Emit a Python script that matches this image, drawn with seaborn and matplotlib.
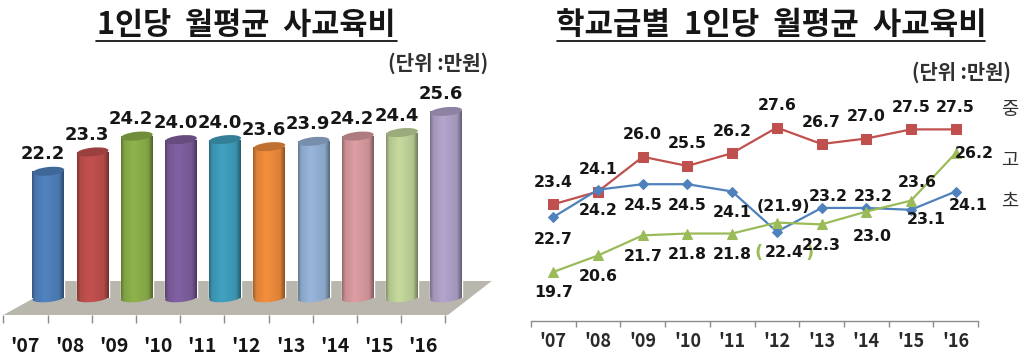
"""
private education cost charts: bars on the left, lines by school level on the right
"""
import numpy as np
import pandas as pd
import matplotlib.pyplot as plt
import seaborn as sns
from matplotlib.colors import to_rgb
from matplotlib.lines import Line2D
from matplotlib.patches import Ellipse, Polygon
from matplotlib.transforms import IdentityTransform

W, H = 1024, 358

# --- data ---
years = ["'07", "'08", "'09", "'10", "'11", "'12", "'13", "'14", "'15", "'16"]
total = [22.2, 23.3, 24.2, 24.0, 24.0, 23.6, 23.9, 24.2, 24.4, 25.6]
middle = [23.4, 24.1, 26.0, 25.5, 26.2, 27.6, 26.7, 27.0, 27.5, 27.5]
elementary = [22.7, 24.2, 24.5, 24.5, 24.1, 21.9, 23.2, 23.2, 23.1, 24.1]
high = [19.7, 20.6, 21.7, 21.8, 21.8, 22.4, 22.3, 23.0, 23.6, 26.2]

bar_colors = ["#4f81bd", "#c0504d", "#8cb04a", "#7f5f9f", "#3f9fbd", "#f08c3c",
              "#95b3d7", "#da9ba0", "#c3d69b", "#b0a2c9"]

left_title = "1인당  월평균  사교육비"
right_title = "학교급별  1인당  월평균  사교육비"
unit_left = "(단위 :만원)"
unit_right = "(단위 :만원)"

# label offsets in pixels from the marker
middle_off = [(0, 22)] * 10
elementary_off = [(0, -22), (0, -21), (0, -21), (0, -21), (0, -21),
                  (7, 25), (7, 11), (7, 11), (15, -10), (13, -14)]
high_off = [(0, -21), (0, -21), (0, -21), (0, -21), (0, -21),
            (7, -30), (0, -21), (6, -25), (6, 18), (19, 0)]

INK = "#161616"
DATA_FONT = {"family": "DejaVu Sans", "weight": "bold", "color": INK}


def axes_at(fig, x0, x1, y_top, y_bottom):
    # axes placed by pixel box, y counted from the top of the image
    ax = fig.add_axes([x0 / W, 1 - y_bottom / H, (x1 - x0) / W, (y_bottom - y_top) / H])
    ax.patch.set_alpha(0)
    return ax


def px(x, y):
    return (x, H - y)


def shaded(ax, color, x0, x1, y0, y1, clip, zorder, free=False):
    # left to right shading of a cylinder side
    rgb = np.array(to_rgb(color))
    t = np.linspace(0, 1, 64)
    light = np.interp(t, [0, 0.1, 0.4, 0.85, 1], [0.68, 0.92, 1.02, 0.92, 0.58])
    row = np.clip(rgb[None, :] * light[:, None], 0, 1)
    im = ax.imshow(row[None, :, :], extent=(x0, x1, y0, y1), aspect="auto",
                   zorder=zorder, interpolation="bilinear")
    im.set_clip_path(clip)
    if free:
        # the base curve hangs below the axes box
        im.set_clip_box(ax.figure.bbox)
    return im


def draw_bars(fig):
    # front plane carries the floor edge and the tick labels
    front = axes_at(fig, 3.3, 445.3, 200, 315)
    front.set_xlim(-0.5, 9.5)
    front.set_ylim(0, 1)
    front.set_xticks(range(10), years)
    front.set_xticks(np.arange(-0.5, 10), minor=True)
    front.set_yticks([])
    front.tick_params(axis="x", which="major", length=0, pad=16, labelsize=14,
                      labelcolor=INK)
    front.tick_params(axis="x", which="minor", length=5.8, width=1, color="#8c8c8c",
                      bottom=True)
    for label in front.get_xticklabels():
        label.set_fontweight("bold")
    sns.despine(ax=front, left=True, bottom=True)

    floor = Polygon([px(3.3, 315), px(448, 315), px(491.7, 281), px(65, 281)],
                    closed=True, transform=IdentityTransform(), facecolor="#b9b6ae",
                    edgecolor="none", clip_on=False)
    front.add_patch(floor)

    # bars sit on the back edge of the floor, 23 px right and 17 px up
    ax = axes_at(fig, 26.3, 468.3, 60, 298)
    sns.barplot(x=years, y=total, hue=years, palette=bar_colors, legend=False,
                width=0.72, saturation=1, ax=ax)
    ax.set_xlim(-0.5, 9.5)
    ax.set_ylim(15, 15 + 238 / 17.6)
    ax.axis("off")

    to_disp = ax.transData.transform
    for bar, color, value in zip(ax.patches, bar_colors, total):
        x0 = bar.get_x()
        x1 = x0 + bar.get_width()
        mid = (x0 + x1) / 2
        w_px = to_disp((x1, 15))[0] - to_disp((x0, 15))[0]

        base = Ellipse(to_disp((mid, 15)), w_px, 8, angle=6,
                       transform=IdentityTransform(), facecolor="none", edgecolor="none")
        ax.add_patch(base)
        base.set_clip_on(False)
        shaded(ax, color, x0, x1, 14.6, 15.4, base, 3, free=True)
        shaded(ax, color, x0, x1, 15, value, bar, 4)

        cap = Ellipse(to_disp((mid, value)), w_px, 8.5, angle=6,
                      transform=IdentityTransform(),
                      facecolor=np.array(to_rgb(color)) * 0.8, edgecolor="none", zorder=5)
        ax.add_patch(cap)
        cap.set_clip_on(False)

        ax.annotate(f"{value:.1f}", (mid, value), xytext=(-5.5, 17),
                    textcoords="offset pixels", ha="center", va="center",
                    fontsize=13, zorder=6, annotation_clip=False, **DATA_FONT)
    ax.set_xlim(-0.5, 9.5)
    ax.set_ylim(15, 15 + 238 / 17.6)


def draw_lines(fig):
    ax = axes_at(fig, 531, 978, 60, 321)
    long = pd.DataFrame({
        "year": years * 3,
        "cost": middle + elementary + high,
        "level": ["중"] * 10 + ["초"] * 10 + ["고"] * 10,
    })
    styles = [("중", "#c0504d", "s", 7.2, middle, middle_off),
              ("초", "#4f81bd", "D", 5.4, elementary, elementary_off),
              ("고", "#9bbb59", "^", 6.8, high, high_off)]
    for level, color, marker, size, values, offsets in styles:
        sns.lineplot(data=long[long["level"] == level], x="year", y="cost", color=color,
                     marker=marker, markersize=size, markeredgecolor=color, linewidth=1.6,
                     errorbar=None, ax=ax, zorder=3, clip_on=False)
        for i, value in enumerate(values):
            text = f"{value:.1f}"
            if level == "초" and years[i] == "'12":
                text = f"({text})"
            ax.annotate(text, (i, value), xytext=offsets[i],
                        textcoords="offset pixels", ha="center", va="center",
                        fontsize=11.3, zorder=5, **DATA_FONT)

    # green brackets round the '12 high school label
    ax.annotate("(", (5, high[5]), xytext=(-18, -30), textcoords="offset pixels", ha="center",
                va="center", fontsize=13, family="DejaVu Sans", weight="bold", color="#9bbb59")
    ax.annotate(")", (5, high[5]), xytext=(33, -30), textcoords="offset pixels", ha="center",
                va="center", fontsize=13, family="DejaVu Sans", weight="bold", color="#9bbb59")

    ax.set_xlim(-0.5, 9.5)
    ax.set_ylim(23.4 - (321 - 204.3) / 18.27, 23.4 + (204.3 - 60) / 18.27)
    ax.set_xlabel("")
    ax.set_ylabel("")
    ax.set_yticks([])
    ax.set_xticks(range(10), years)
    ax.set_xticks(np.arange(-0.5, 10), minor=True)
    ax.tick_params(axis="x", which="major", length=0, pad=8, labelsize=13, labelcolor="#2a2a2a")
    ax.tick_params(axis="x", which="minor", length=4.3, width=1, color="#8c8c8c", bottom=True)
    for label in ax.get_xticklabels():
        label.set_fontweight("bold")
    sns.despine(ax=ax, left=True)
    ax.spines["bottom"].set_color("#8c8c8c")
    ax.spines["bottom"].set_linewidth(1)


def main():
    sns.set_theme(style="white")
    plt.rcParams["font.family"] = ["Noto Sans CJK KR", "DejaVu Sans"]

    fig = plt.figure(figsize=(W / 100, H / 100), dpi=100, facecolor="white")
    draw_bars(fig)
    draw_lines(fig)

    # titles with a hand drawn underline
    fig.text(246 / W, 1 - 25 / H, left_title, fontsize=22, fontweight="bold", ha="center",
             va="center", color=INK)
    fig.text(771 / W, 1 - 25 / H, right_title, fontsize=22.3, fontweight="bold", ha="center",
             va="center", color=INK)
    fig.add_artist(Line2D([96 / W, 397 / W], [1 - 41 / H] * 2, color="black", linewidth=1.2))
    fig.add_artist(Line2D([557 / W, 985 / W], [1 - 41 / H] * 2, color="black", linewidth=1.2))

    fig.text(438 / W, 1 - 63 / H, unit_left, fontsize=14.5, fontweight="bold", ha="center",
             va="center", color="#303030")
    fig.text(962 / W, 1 - 72 / H, unit_right, fontsize=14.3, fontweight="bold", ha="center",
             va="center", color="#303030")

    # school level tags at the right edge
    for tag, y in [("중", 109), ("고", 160), ("초", 201)]:
        fig.text(1010 / W, 1 - y / H, tag, fontsize=13.5, ha="center", va="center", color="#303030")

    fig.savefig("out.png", dpi=100)
    plt.close(fig)


if __name__ == "__main__":
    main()
